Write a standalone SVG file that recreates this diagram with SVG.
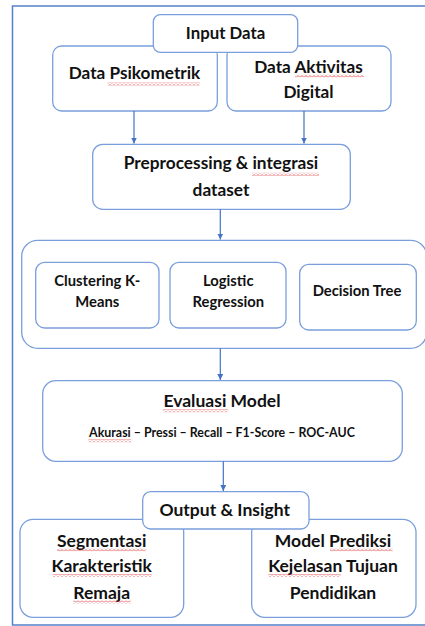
<svg xmlns="http://www.w3.org/2000/svg" width="425" height="626" viewBox="0 0 425 626">
<style>
.box{fill:#fff;stroke:#7b9fdc;stroke-width:1.3}
.t{font-family:Lato,"Open Sans",sans-serif;font-weight:700;fill:#111;text-anchor:middle}
.c{stroke:#4472c4;stroke-width:1.2;fill:none;marker-end:url(#ah)}
.w{fill:url(#wavy)}
</style>
<defs>
<marker id="ah" viewBox="0 0 10 10" refX="10" refY="5" markerWidth="6" markerHeight="6" markerUnits="userSpaceOnUse" orient="auto"><path d="M0,0 L10,5 L0,10 z" fill="#4472c4"/></marker>
<pattern id="wavy" patternUnits="userSpaceOnUse" width="4" height="3"><path d="M0,2.5 L2,0.5 L4,2.5" stroke="#e03030" stroke-width="0.8" fill="none"/></pattern>
</defs>
<rect x="12.5" y="6" width="420" height="619" fill="#fff" stroke="#5580c8" stroke-width="1.5"/>
<g id="psikometrik"><rect class="box" x="52.7" y="46" width="164.6" height="65" rx="9"/><text class="t" x="134.5" y="79" font-size="17.2">Data Psikometrik</text><rect class="w" x="107.7" y="82.5" width="92" height="3"/></g>
<g id="aktivitas"><rect class="box" x="227" y="46" width="164" height="65" rx="9"/><text class="t" x="308.5" y="72.7" font-size="17.2">Data Aktivitas</text><text class="t" x="308.5" y="98.3" font-size="17.2">Digital</text><rect class="w" x="295" y="74.5" width="69" height="3"/></g>
<g id="input"><rect class="box" x="153.3" y="14.7" width="144.4" height="37.6" rx="7"/><text class="t" x="225.5" y="38.5" font-size="16.8">Input Data</text></g>
<g id="preprocessing"><rect class="box" x="92.7" y="144.3" width="257.6" height="65" rx="10"/><text class="t" x="221" y="169.3" font-size="17.3">Preprocessing &amp; integrasi</text><text class="t" x="221" y="195.7" font-size="17.3">dataset</text><rect class="w" x="252" y="172.8" width="67" height="3"/></g>
<g id="models"><rect class="box" x="21.7" y="240.3" width="405" height="108" rx="16"/></g>
<g id="kmeans"><rect class="box" x="35.7" y="262.3" width="123.3" height="65.7" rx="9"/><text class="t" x="97.3" y="285.7" font-size="14.8">Clustering K-</text><text class="t" x="97.3" y="307.3" font-size="14.8">Means</text></g>
<g id="logistic"><rect class="box" x="170" y="262.3" width="116" height="65.7" rx="9"/><text class="t" x="228.3" y="285.7" font-size="14.8">Logistic</text><text class="t" x="228.3" y="307.3" font-size="14.8">Regression</text></g>
<g id="dtree"><rect class="box" x="299.7" y="264.3" width="116.6" height="65.7" rx="9"/><text class="t" x="357" y="295.7" font-size="14.8">Decision Tree</text></g>
<g id="evaluasi"><rect class="box" x="42.7" y="380.7" width="359.6" height="80.6" rx="13"/><text class="t" x="222" y="407.3" font-size="17.5">Evaluasi Model</text><text class="t" x="222" y="437.3" font-size="12.4">Akurasi – Pressi – Recall – F1-Score – ROC-AUC</text><rect class="w" x="163" y="409.2" width="65" height="3"/><rect class="w" x="88.3" y="439.2" width="43" height="3"/></g>
<g id="segmentasi"><rect class="box" x="20" y="519.3" width="163.7" height="98" rx="13"/><text class="t" x="101.7" y="546.7" font-size="17.5">Segmentasi</text><text class="t" x="101.7" y="572.3" font-size="17.5">Karakteristik</text><text class="t" x="101.7" y="599" font-size="17.5">Remaja</text><rect class="w" x="57.3" y="548.3" width="88.4" height="3"/><rect class="w" x="52.7" y="574" width="99" height="3"/><rect class="w" x="73.3" y="600.5" width="57.4" height="3"/></g>
<g id="prediksi"><rect class="box" x="251.7" y="519.3" width="164.3" height="98" rx="13"/><text class="t" x="333" y="546.7" font-size="17.5">Model Prediksi</text><text class="t" x="333" y="572.3" font-size="17.5">Kejelasan Tujuan</text><text class="t" x="333" y="599" font-size="17.5">Pendidikan</text><rect class="w" x="330" y="548.3" width="62.7" height="3"/><rect class="w" x="268.3" y="574" width="72.4" height="3"/></g>
<g id="output"><rect class="box" x="142.7" y="491.7" width="166.3" height="37.3" rx="8"/><text class="t" x="224.7" y="515.7" font-size="17.5">Output &amp; Insight</text></g>
<g id="connectors">
<path class="c" d="M134,111 V143.5"/>
<path class="c" d="M304,111 V143.5"/>
<path class="c" d="M220.3,209.3 V239.5"/>
<path class="c" d="M220.3,348.3 V380"/>
<path class="c" d="M223.3,461.3 V491"/>
</g>
</svg>
